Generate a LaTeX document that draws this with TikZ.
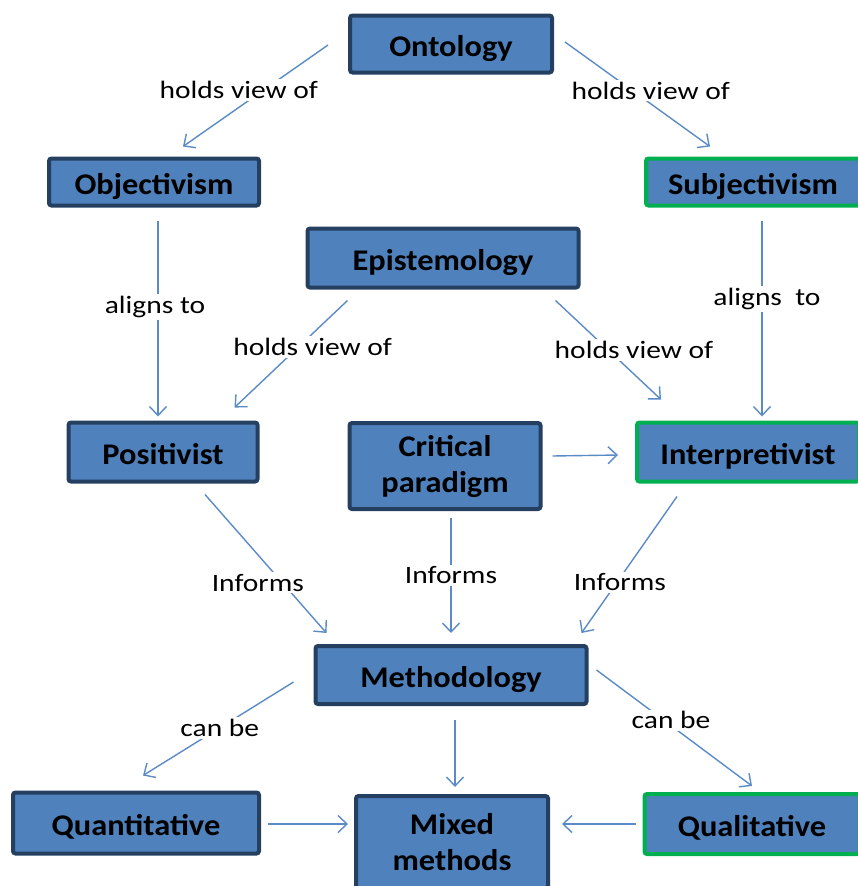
\documentclass[tikz,border=0pt]{standalone}
\usepackage{fontspec}
\setmainfont{Carlito}
\newfontfamily\labelfont[FakeStretch=1.18]{Carlito}
\newfontfamily\boxfont[FakeStretch=1.08]{Carlito}
\usetikzlibrary{arrows.meta}
\definecolor{boxfill}{HTML}{4F81BD}
\definecolor{boxedge}{HTML}{243F60}
\definecolor{greenedge}{HTML}{00B050}
\definecolor{linkblue}{HTML}{5B8BC6}
\begin{document}
\begin{tikzpicture}[x=1pt,y=-1pt,
  concept/.style={draw=boxedge, line width=4pt, fill=boxfill, rounded corners=2.5pt,
    font=\boxfont\fontsize{30}{36}\selectfont\bfseries, align=center, inner sep=0pt},
  oneline/.style={text height=26pt, text depth=2pt},
  greenbox/.style={concept, draw=greenedge},
  link/.style={draw=linkblue, line width=1.4pt,
    -{Straight Barb[length=9pt,width=17pt,line width=1.4pt]}},
  lbl/.style={fill=white, text=black, font=\labelfont\fontsize{25}{28}\selectfont, inner sep=2pt}
]
\useasboundingbox (0,0) rectangle (858,886);

% concept boxes
\node[concept, oneline, minimum width=202pt, minimum height=57pt] (onto) at (451,44) {Ontology};
\node[concept, oneline, minimum width=210pt, minimum height=47pt] (objv) at (154,182) {Objectivism};
\node[greenbox, oneline, minimum width=214pt, minimum height=47pt] (subj) at (753,182) {Subjectivism};
\node[concept, oneline, minimum width=271pt, minimum height=59pt] (epis) at (443,258) {Epistemology};
\node[concept, oneline, minimum width=189pt, minimum height=59pt] (posi) at (163,452) {Positivist};
\node[concept, minimum width=191pt, minimum height=86pt] (crit) at (445,466) {Critical\\paradigm};
\node[greenbox, oneline, minimum width=222pt, minimum height=59pt] (inter) at (748,452) {Interpretivist};
\node[concept, oneline, minimum width=271pt, minimum height=58pt] (meth) at (451,675) {Methodology};
\node[concept, oneline, minimum width=246pt, minimum height=61pt] (quan) at (136,823) {Quantitative};
\node[concept, minimum width=192pt, minimum height=92pt] (mixd) at (452,842) {Mixed\\methods};
\node[greenbox, oneline, minimum width=215pt, minimum height=60pt] (qual) at (752,824) {Qualitative};

% connectors
\draw[link] ([shift={(-20,1)}]onto.west) -- node[lbl, pos=0.56, xshift=-8pt, yshift=12pt] {holds view of} ([shift={(29,-10)}]objv.north);
\draw[link] ([shift={(11,-2)}]onto.east) -- node[lbl, pos=0.55, xshift=6pt, yshift=9pt] {holds view of} ([shift={(-43,-10)}]subj.north);
\draw[link] ([shift={(4,13)}]objv.south) -- node[lbl, pos=0.44, xshift=-3pt] {aligns to} ([shift={(-5,-4)}]posi.north);
\draw[link] ([shift={(9,13)}]subj.south) -- node[lbl, pos=0.40, xshift=5pt] {aligns\ \ to} ([shift={(14,-4)}]inter.north);
\draw[link] ([shift={(42,11)}]epis.south west) -- node[lbl, pos=0.37, xshift=7pt, yshift=-7pt] {holds view of} ([shift={(-25,-13)}]posi.north east);
\draw[link] ([shift={(-25,11)}]epis.south east) -- node[lbl, pos=0.63, xshift=12pt, yshift=13pt] {holds view of} ([shift={(26,-21)}]inter.north west);
\draw[link] ([shift={(10,-10)}]crit.east) -- ([shift={(-17,3)}]inter.west);
\draw[link] ([shift={(42,11)}]posi.south) -- node[lbl, pos=0.55, xshift=-14pt, yshift=-12pt] {Informs} ([shift={(13,-11)}]meth.north west);
\draw[link] ([shift={(6,7)}]crit.south) -- node[lbl, pos=0.5] {Informs} ([shift={(0,-11)}]meth.north);
\draw[link] ([shift={(-71,13)}]inter.south) -- node[lbl, pos=0.63, xshift=3pt] {Informs} ([shift={(-7,-11)}]meth.north east);
\draw[link] ([shift={(-20,7)}]meth.west) -- node[lbl, pos=0.49] {can be} ([shift={(7,-15)}]quan.north);
\draw[link] ([shift={(8,-5)}]meth.east) -- node[lbl, pos=0.46, xshift=3pt, yshift=3pt] {can be} ([shift={(0,-6)}]qual.north);
\draw[link] ([shift={(4,14)}]meth.south) -- ([shift={(3,-7)}]mixd.north);
\draw[link] ([shift={(7,1)}]quan.east) -- ([shift={(-6,-18)}]mixd.west);
\draw[link] ([shift={(-7,0)}]qual.west) -- ([shift={(12,-18)}]mixd.east);
\end{tikzpicture}
\end{document}
